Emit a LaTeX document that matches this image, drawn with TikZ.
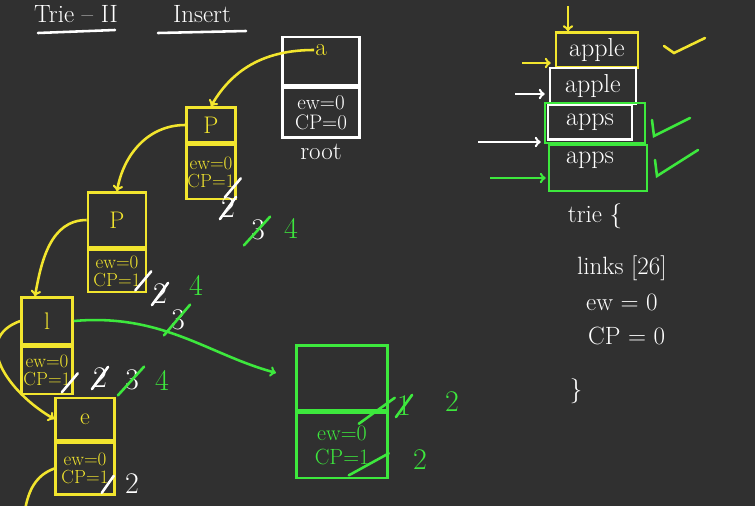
\documentclass[tikz,border=0pt]{standalone}
\usetikzlibrary{positioning}
\definecolor{board}{HTML}{303030}
\definecolor{chalkyellow}{HTML}{F2E52E}
\definecolor{chalkgreen}{HTML}{3DE83D}
\tikzset{
   box/.style ={
      rectangle, draw, line width=0.9mm, inner sep=1pt, align=center,
      font=\fontsize{19}{18}\selectfont,
   },
   ybox/.style ={box, color=chalkyellow},
   gbox/.style ={box, color=chalkgreen},
   wbox/.style ={box, color=white},
   letter/.style ={font=\fontsize{24}{24}\selectfont},
   chalk/.style ={
      font=\fontsize{25}{25}\selectfont, text=white, inner sep=1pt,
   },
   count/.style ={chalk, font=\fontsize{30}{30}\selectfont},
   line/.style ={
      -, line width=0.9mm, line cap=round, color=white,
   },
   yarrow/.style ={
      ->, line width=0.9mm, color=chalkyellow,
   },
   garrow/.style ={
      ->, line width=0.9mm, color=chalkgreen,
   },
   warrow/.style ={
      ->, line width=0.9mm, color=white,
   },
}

\begin{document}
\begin{tikzpicture}[x=1pt,y=-1pt]

      \fill[board] (0,0) rectangle (755,506);
      \useasboundingbox (0,0) rectangle (755,506);

      % heading
      \node[chalk] (title) at (76,14) {Trie -- II};
      \node[chalk] (insert) at (202,14) {Insert};
      \draw[line] (38,33) -- (115,30);
      \draw[line] (158,33) -- (246,31);

      % root
      \node[wbox, minimum width=77, minimum height=48] (root) at (321,61) {};
      \node[wbox, minimum width=77, minimum height=50, below=0pt of root, font=\fontsize{21}{20}\selectfont] (rootinfo) {ew=0\\CP=0};
      \node[chalk, text=chalkyellow] (a) at (321,50) {a};
      \node[chalk, below=4pt of rootinfo] (rootlabel) {root};

      % p
      \node[ybox, letter, minimum width=49, minimum height=35] (p1) at (211,125) {P};
      \node[ybox, minimum width=49, minimum height=54, below=0pt of p1] (p1info) {ew=0\\CP=1};
      \node[count] (p1c2) at (228,208) {2};
      \node[count] (p1c3) at (258,230) {3};
      \node[count, text=chalkgreen] (p1c4) at (291,228) {4};

      % p
      \node[ybox, letter, minimum width=58, minimum height=55] (p2) at (117,220) {P};
      \node[ybox, minimum width=58, minimum height=42, below=0pt of p2] (p2info) {ew=0\\CP=1};
      \node[count] (p2c2) at (160,294) {2};
      \node[count] (p2c3) at (178,320) {3};
      \node[count, text=chalkgreen] (p2c4) at (196,285) {4};

      % l
      \node[ybox, letter, minimum width=51, minimum height=47] (l) at (47,321) {l};
      \node[ybox, minimum width=51, minimum height=47, below=0pt of l] (linfo) {ew=0\\CP=1};
      \node[count] (lc2) at (100,378) {2};
      \node[count] (lc3) at (132,380) {3};
      \node[count, text=chalkgreen] (lc4) at (162,380) {4};

      % e
      \node[ybox, letter, minimum width=59, minimum height=42] (e) at (85,419) {e};
      \node[ybox, minimum width=59, minimum height=52, below=0pt of e] (einfo) {ew=0\\CP=1};
      \node[count] (ec2) at (132,484) {2};
      \coordinate (eout) at (25,510);

      % new node
      \node[gbox, minimum width=91, minimum height=65] (g) at (342,378) {};
      \node[gbox, minimum width=91, minimum height=65, below=0pt of g, font=\fontsize{22}{24}\selectfont] (ginfo) {ew=0\\CP=1};
      \node[count, text=chalkgreen] (gc1) at (404,406) {1};
      \node[count, text=chalkgreen] (gc2) at (452,402) {2};
      \node[count, text=chalkgreen] (gc3) at (420,460) {2};

      % links
      \draw[yarrow] (a.west) to[out=180,in=60] (p1.north);
      \draw[yarrow] (p1.west) to[out=180,in=80] (p2.north);
      \draw[yarrow] (p2.west) to[out=180,in=80] ([xshift=-12pt]l.north);
      \draw[yarrow] (l.west) to[out=200,in=150,looseness=1.3] (e.west);
      \draw[line, color=chalkyellow] (einfo.west) to[out=200,in=80] (eout);
      \draw[garrow, shorten >=20pt] (l.east) to[out=5,in=165] (g.west);

      % counts struck out
      \draw[line] ([shift={(-12pt,3pt)}]p1info.south east) -- ([shift={(4pt,22pt)}]p1info.south east);
      \draw[line] (p1c2.south west) -- (p1c2.north east);
      \draw[line, color=chalkgreen] ([shift={(-6pt,-4pt)}]p1c3.south west) -- ([shift={(4pt,2pt)}]p1c3.north east);
      \draw[line] ([shift={(-12pt,3pt)}]p2info.south east) -- ([shift={(4pt,22pt)}]p2info.south east);
      \draw[line] (p2c2.south west) -- (p2c2.north east);
      \draw[line, color=chalkgreen] ([shift={(-6pt,-4pt)}]p2c3.south west) -- ([shift={(4pt,4pt)}]p2c3.north east);
      \draw[line] ([shift={(-12pt,3pt)}]linfo.south east) -- ([shift={(4pt,22pt)}]linfo.south east);
      \draw[line] (lc2.south west) -- (lc2.north east);
      \draw[line, color=chalkgreen] ([shift={(-6pt,-4pt)}]lc3.south west) -- ([shift={(4pt,2pt)}]lc3.north east);
      \draw[line] ([shift={(-14pt,3pt)}]einfo.south east) -- ([shift={(-2pt,20pt)}]einfo.south east);
      \draw[line, color=chalkgreen] ([shift={(-30pt,-12pt)}]ginfo.north east) -- ([shift={(6pt,14pt)}]ginfo.north east);
      \draw[line, color=chalkgreen] (gc1.south west) -- (gc1.north east);
      \draw[line, color=chalkgreen] ([shift={(-40pt,4pt)}]ginfo.south east) -- ([shift={(0pt,26pt)}]ginfo.south east);

      % words
      \node[ybox, minimum width=82, minimum height=35, text=white, font=\fontsize{26}{26}\selectfont] (s1) at (597,50) {apple};
      \node[wbox, minimum width=86, minimum height=36, font=\fontsize{26}{26}\selectfont] (s2) at (593,86) {apple};
      \node[wbox, minimum width=84, minimum height=35, font=\fontsize{26}{26}\selectfont] (s3) at (590,122) {apps};
      \node[gbox, minimum width=100, minimum height=40] (s3mark) at (595,123) {};
      \node[gbox, minimum width=98, minimum height=46] (s4) at (598,168) {};
      \node[chalk, font=\fontsize{26}{26}\selectfont] (s4word) at (590,160) {apps};
      \coordinate (ydown) at (568,6);
      \coordinate (yin) at (522,63);
      \coordinate (win) at (515,94);
      \coordinate (win2) at (478,142);
      \coordinate (gin) at (490,178);
      \draw[yarrow] (ydown) -- (ydown |- s1.north);
      \draw[yarrow, shorten >=4pt] (yin) -- (yin -| s1.west);
      \draw[warrow, shorten >=4pt] (win) -- (win -| s2.west);
      \draw[warrow, shorten >=6pt] (win2) -- (win2 -| s3.west);
      \draw[garrow, shorten >=2pt] (gin) -- (gin -| s4.west);

      % ticks
      \draw[line, color=chalkyellow] (664,46) -- (674,53) -- (705,38);
      \draw[line, color=chalkgreen] (652,120) -- (654,136) -- (690,118);
      \draw[line, color=chalkgreen] (655,160) -- (657,176) -- (698,150);

      % structure
      \node[chalk] (trie) at (595,216) {trie \{};
      \node[chalk, anchor=west] (links) at (576,268) {links [26]};
      \node[chalk, anchor=west] (ew) at (585,302) {ew = 0};
      \node[chalk, anchor=west] (cp) at (587,336) {CP = 0};
      \node[chalk] (close) at (576,391) {\}};

   \end{tikzpicture}
\end{document}
